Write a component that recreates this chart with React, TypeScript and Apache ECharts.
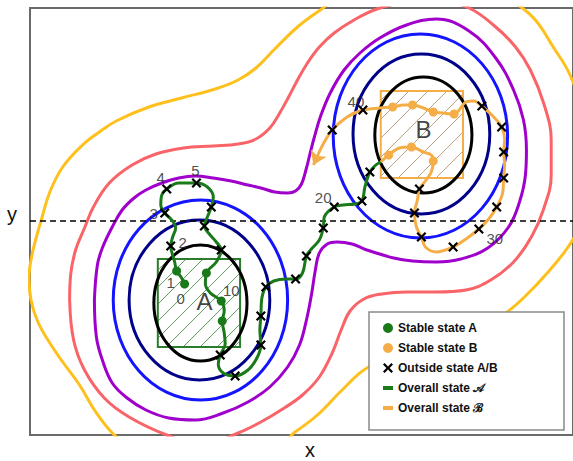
import React, { useEffect, useRef } from 'react';
import * as echarts from 'echarts';

// Axis ranges (chart units)
const xRange = [30, 578];
const yRange = [8, 435];
const dashedY = 221;

// Inner contour ellipses: [cx, cy, rx, ry] (black, navy, blue)
const wellA = [
  [202, 303, 47, 58],
  [201, 300, 71, 80],
  [202, 300, 88, 100],
];
const wellB = [
  [427, 135, 49, 58],
  [425, 134, 69, 80],
  [424, 136, 88, 102],
];

// Stable state boxes: [x0, y0, x1, y1]
const stateBoxes = [
  [159, 259, 242, 347],
  [384, 91, 467, 178],
];
const stateLetters = ['A', 'B'];
const letterPos = [
  [206, 301],
  [427, 129],
];

// Outer contours
const purpleContour = [
  [95, 300], [98, 265], [103, 248], [113, 227], [123, 210], [135, 198], [147, 190], [163, 183], [180, 178],
  [197, 176], [215, 178], [233, 181], [250, 185], [263, 188], [277, 192], [290, 193], [298, 191], [304, 184],
  [309, 168], [313, 152], [317, 137], [323, 117], [333, 93], [347, 70], [363, 53], [383, 38], [410, 25],
  [440, 19], [473, 31], [500, 58], [518, 90], [528, 120], [531, 150], [530, 175], [524, 202], [513, 227],
  [492, 248], [465, 259], [440, 262], [416, 261], [397, 258], [370, 250], [355, 244], [340, 242], [330, 244],
  [322, 253], [318, 270], [314, 295], [309, 320], [302, 345], [290, 367], [272, 387], [250, 402], [225, 413],
  [197, 420], [170, 418], [147, 410], [128, 398], [113, 383], [103, 360], [97, 337], [95, 300],
];
const redContour = [
  [70, 300], [71, 275], [76, 250], [85, 228], [94, 207], [110, 183], [133, 165], [157, 154], [185, 148],
  [215, 146], [240, 144], [258, 139], [272, 128], [282, 113], [291, 97], [300, 80], [310, 63], [322, 47],
  [337, 33], [357, 20], [380, 9], [410, 2], [440, 0], [473, 8], [500, 27], [520, 47], [535, 70], [549, 105],
  [556, 140], [556, 175], [548, 210], [536, 237], [518, 262], [495, 280], [470, 290], [440, 292], [410, 292],
  [385, 294], [367, 299], [353, 311], [344, 330], [335, 353], [322, 377], [305, 395], [285, 409], [263, 422],
  [240, 433], [205, 445], [168, 435], [130, 417], [105, 398], [85, 370], [74, 340], [70, 300],
];
const yellowContour = [
  [296, 433], [275, 450], [230, 462], [170, 458], [130, 445], [113, 433], [95, 410], [80, 385], [63, 362],
  [50, 343], [38, 322], [31, 300], [29, 278], [32, 255], [37, 235], [42, 218], [50, 192], [63, 167],
  [83, 145], [100, 132], [117, 121], [150, 107], [183, 98], [217, 89], [240, 80], [258, 68], [277, 49],
  [300, 27], [323, 10], [350, -8], [430, -20], [500, -8], [520, 3], [540, 20], [558, 47], [575, 75],
  [590, 120], [595, 180], [588, 220], [573, 247], [552, 273], [530, 296], [510, 313], [480, 330],
  [440, 345], [400, 358], [370, 368], [345, 390], [320, 415], [296, 433],
];

// Trajectory steps 0..41 and their state (A stable, B stable, x outside)
const steps = [
  [186, 284], [178, 271], [172, 246], [166, 213], [168, 189], [198, 183], [213, 207], [206, 226],
  [223, 250], [208, 273], [223, 301], [224, 321], [222, 355], [237, 376], [263, 345], [263, 316],
  [268, 287], [298, 279], [309, 256], [326, 228], [337, 207], [365, 201], [373, 172], [392, 155],
  [415, 147], [437, 161], [423, 189], [418, 213], [425, 237], [457, 247], [483, 229], [501, 207],
  [508, 178], [508, 152], [506, 127], [486, 106], [458, 114], [437, 112], [416, 105], [396, 107],
  [366, 110], [335, 130],
];
const stepState = 'AAxxxxxxxAAAxxxxxxxxxxxBBBxxxxxxxxxxBBBBxx'.split('');
const labelSteps = [0, 1, 2, 3, 4, 5, 10, 20, 30, 40];
const labelOffsets = [
  [-4, 14], [-6, 11], [12, -4], [-11, 0], [-6, -12], [-1, -13], [10, -11], [-11, -10], [16, 9], [-7, -9],
];

// Drawn trajectory (overall state A, then overall state B)
const pathA = [
  [186, 284], [183, 278], [178, 271], [176, 262], [172, 246], [174, 237], [177, 228], [173, 220], [166, 213],
  [162, 205], [163, 195], [168, 189], [180, 183], [198, 183], [209, 187], [215, 197], [213, 207], [209, 217],
  [206, 226], [211, 234], [218, 242], [223, 250], [218, 262], [208, 273], [207, 284], [212, 293], [223, 301],
  [226, 311], [224, 321], [226, 333], [227, 344], [222, 355], [220, 364], [225, 373], [237, 376], [250, 370],
  [259, 358], [263, 345], [262, 330], [263, 316], [264, 298], [268, 287], [276, 281], [289, 279], [298, 279],
  [305, 273], [309, 256], [314, 249], [322, 240], [326, 228], [327, 217], [337, 207], [346, 205], [358, 204],
  [365, 201], [368, 187], [373, 172], [379, 165], [384, 162],
];
const pathB = [
  [384, 162], [392, 155], [403, 148], [415, 147], [427, 152], [435, 155], [437, 161], [435, 172], [429, 181],
  [423, 189], [421, 200], [418, 213], [420, 227], [425, 237], [429, 247], [440, 252], [457, 247], [470, 239],
  [483, 229], [493, 219], [501, 207], [507, 193], [508, 178], [509, 165], [508, 152], [509, 140], [506, 127],
  [497, 116], [486, 106], [478, 101], [470, 102], [458, 114], [447, 113], [437, 112], [427, 108], [416, 105],
  [407, 105], [396, 107], [383, 108], [366, 110], [350, 117], [335, 130], [327, 142], [321, 154],
];
const arrowTip = [[321, 154], [316, 165]];

const legendNames = [
  'Stable state A',
  'Stable state B',
  'Outside state A/B',
  'Overall state 𝒜',
  'Overall state ℬ',
];

// Styles
const levelColors = ['#000000', '#00008a', '#1414ff'];
const PURPLE = '#a000cc';
const RED = '#f96469';
const YELLOW = '#fdc01d';
const GREEN = '#1a7a1a';
const ORANGE = '#f5ae47';
const boxStyles = [
  { border: '#2a7d2a', hatch: '#5f9a5f', gap: 17, phase: 6 },
  { border: '#f5ae47', hatch: '#bca07c', gap: 19, phase: 8 },
];
const CROSS = 'path://M1.6,0L5,3.4L8.4,0L10,1.6L6.6,5L10,8.4L8.4,10L5,6.6L1.6,10L0,8.4L3.4,5L0,1.6Z';
const DASH = 'path://M0,0H10V4H0Z';
const FONT = 'Liberation Sans, Arial, Helvetica, sans-serif';

function ellipseSeries(rows: number[][]) {
  return {
    type: 'custom',
    coordinateSystem: 'cartesian2d',
    silent: true,
    z: 3,
    data: rows,
    encode: { x: 0, y: 1 },
    renderItem: (params: any, api: any) => {
      const c = api.coord([api.value(0), api.value(1)]);
      const s = api.size([api.value(2), api.value(3)]);
      return {
        type: 'ellipse',
        shape: { cx: c[0], cy: c[1], rx: Math.abs(s[0]), ry: Math.abs(s[1]) },
        style: { fill: 'none', stroke: levelColors[params.dataIndex], lineWidth: 3 },
      };
    },
  };
}

function contourSeries(points: number[][], color: string) {
  return {
    type: 'line',
    data: points,
    smooth: 0.4,
    showSymbol: false,
    silent: true,
    z: 3,
    lineStyle: { color, width: 3 },
    itemStyle: { color },
  };
}

export default function App() {
  const ref = useRef<HTMLDivElement>(null);
  useEffect(() => {
    document.body.style.margin = '0';
    const chart = echarts.init(ref.current as HTMLDivElement, null, { renderer: 'svg' });
    const option: any = {
      animation: false,
      grid: {
        left: xRange[0], top: yRange[0], width: xRange[1] - xRange[0], height: yRange[1] - yRange[0],
        show: true, borderColor: '#6a6a6a', borderWidth: 2, backgroundColor: 'transparent',
      },
      xAxis: { type: 'value', min: xRange[0], max: xRange[1], show: false },
      yAxis: { type: 'value', min: yRange[0], max: yRange[1], inverse: true, show: false },
      legend: {
        orient: 'vertical', left: 369, top: 312,
        padding: [10, 66, 16, 14], itemWidth: 10, itemHeight: 10, itemGap: 8,
        backgroundColor: '#ffffff', borderColor: '#8a8a8a', borderWidth: 1.5,
        selectedMode: false, z: 20,
        textStyle: { fontFamily: FONT, fontSize: 12, fontWeight: 'bold', color: '#111' },
        data: [
          { name: legendNames[0], icon: 'circle' },
          { name: legendNames[1], icon: 'circle' },
          { name: legendNames[2], icon: CROSS },
          { name: legendNames[3], icon: DASH },
          { name: legendNames[4], icon: DASH },
        ],
      },
      graphic: [
        { type: 'text', left: 7, top: 204, style: { text: 'y', fontSize: 20, fontFamily: FONT, fill: '#111' } },
        { type: 'text', left: 305, top: 440, style: { text: 'x', fontSize: 20, fontFamily: FONT, fill: '#111' } },
      ],
      series: [
        {
          type: 'custom',
          coordinateSystem: 'cartesian2d',
          silent: true,
          z: 2,
          data: stateBoxes,
          encode: { x: [0, 2], y: [1, 3] },
          renderItem: (params: any, api: any) => {
            const p = api.coord([api.value(0), api.value(1)]);
            const q = api.coord([api.value(2), api.value(3)]);
            const x0 = Math.min(p[0], q[0]);
            const x1 = Math.max(p[0], q[0]);
            const y0 = Math.min(p[1], q[1]);
            const y1 = Math.max(p[1], q[1]);
            const w = x1 - x0;
            const h = y1 - y0;
            const st = boxStyles[params.dataIndex];
            const children: any[] = [];
            for (let c = -w + st.phase; c < h; c += st.gap) {
              const u0 = Math.max(0, -c);
              const u1 = Math.min(w, h - c);
              if (u1 <= u0) continue;
              children.push({
                type: 'line',
                shape: { x1: x0 + u0, y1: y1 - (u0 + c), x2: x0 + u1, y2: y1 - (u1 + c) },
                style: { stroke: st.hatch, lineWidth: 1 },
              });
            }
            children.push({
              type: 'rect',
              shape: { x: x0, y: y0, width: w, height: h },
              style: { fill: 'none', stroke: st.border, lineWidth: 2 },
            });
            return { type: 'group', children };
          },
        },
        contourSeries(yellowContour, YELLOW),
        contourSeries(redContour, RED),
        contourSeries(purpleContour, PURPLE),
        ellipseSeries(wellA),
        ellipseSeries(wellB),
        {
          name: legendNames[3],
          type: 'line',
          data: pathA,
          smooth: 0.35,
          showSymbol: false,
          silent: true,
          z: 5,
          lineStyle: { color: GREEN, width: 3 },
          itemStyle: { color: GREEN },
          markLine: {
            silent: true,
            symbol: 'none',
            label: { show: false },
            lineStyle: { color: '#000', type: [6, 4], width: 1.5 },
            data: [{ yAxis: dashedY }],
          },
        },
        {
          name: legendNames[4],
          type: 'line',
          data: pathB,
          smooth: 0.35,
          showSymbol: false,
          silent: true,
          z: 5,
          lineStyle: { color: ORANGE, width: 3 },
          itemStyle: { color: ORANGE },
        },
        {
          type: 'lines',
          coordinateSystem: 'cartesian2d',
          silent: true,
          z: 5,
          symbol: ['none', 'arrow'],
          symbolSize: 13,
          lineStyle: { color: ORANGE, width: 3, opacity: 1 },
          data: [{ coords: arrowTip }],
        },
        {
          name: legendNames[0],
          type: 'scatter',
          silent: true,
          z: 6,
          symbol: 'circle',
          symbolSize: 9,
          itemStyle: { color: GREEN, opacity: 1 },
          data: steps.filter((_, i) => stepState[i] === 'A'),
        },
        {
          name: legendNames[1],
          type: 'scatter',
          silent: true,
          z: 6,
          symbol: 'circle',
          symbolSize: 9,
          itemStyle: { color: ORANGE, opacity: 1 },
          data: steps.filter((_, i) => stepState[i] === 'B'),
        },
        {
          name: legendNames[2],
          type: 'scatter',
          silent: true,
          z: 6,
          symbol: CROSS,
          symbolSize: 10,
          itemStyle: { color: '#000', opacity: 1 },
          data: steps.filter((_, i) => stepState[i] === 'x'),
        },
        {
          type: 'scatter',
          silent: true,
          z: 7,
          symbolSize: 1,
          itemStyle: { color: 'rgba(0,0,0,0)' },
          data: labelSteps.map((s, k) => ({
            value: steps[s],
            label: { offset: labelOffsets[k] },
          })),
          label: {
            show: true,
            position: 'inside',
            fontFamily: FONT,
            fontSize: 15,
            color: '#222',
            formatter: (p: any) => String(labelSteps[p.dataIndex]),
          },
        },
        {
          type: 'scatter',
          silent: true,
          z: 7,
          symbolSize: 1,
          itemStyle: { color: 'rgba(0,0,0,0)' },
          data: letterPos.map((v, k) => ({ name: stateLetters[k], value: v })),
          label: {
            show: true,
            position: 'inside',
            fontFamily: FONT,
            fontSize: 24,
            color: '#111',
            formatter: '{b}',
          },
        },
      ],
    };
    chart.setOption(option);
    return () => chart.dispose();
  }, []);
  return <div ref={ref} style={{ width: 573, height: 461 }} />;
}
